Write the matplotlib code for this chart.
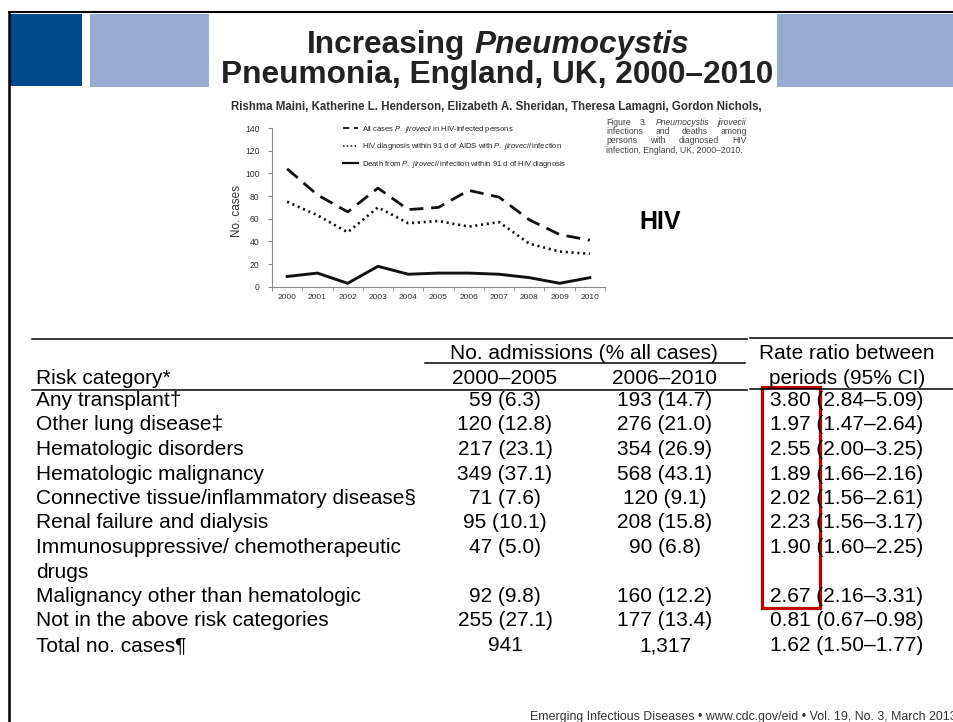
import matplotlib
matplotlib.use("Agg")
import matplotlib.pyplot as plt
from matplotlib.lines import Line2D
from matplotlib.patches import Rectangle

plt.rcParams["font.family"] = ["Liberation Sans", "DejaVu Sans"]
plt.rcParams["mathtext.fontset"] = "custom"
plt.rcParams["mathtext.rm"] = "Liberation Sans"
plt.rcParams["mathtext.it"] = "Liberation Sans:italic"

# --- chart data ---
years = [2000, 2001, 2002, 2003, 2004, 2005, 2006, 2007, 2008, 2009, 2010]
all_cases = [104, 81, 66, 87, 68, 70, 85, 79, 59, 46, 41]
hiv_diag = [75, 63, 48, 70, 56, 58, 53, 57, 38, 31, 29]
deaths = [9, 12, 3, 18, 11, 12, 12, 11, 8, 3, 8]
legend_labels = [
    r"All cases $\mathit{P.\ jirovecii}$ in HIV-infected persons",
    r"HIV diagnosis within 91 d of AIDS with $\mathit{P.\ jirovecii}$ infection",
    r"Death from $\mathit{P.\ jirovecii}$ infection within 91 d of HIV diagnosis",
]

# --- table data ---
categories = [
    "Any transplant†",
    "Other lung disease‡",
    "Hematologic disorders",
    "Hematologic malignancy",
    "Connective tissue/inflammatory disease§",
    "Renal failure and dialysis",
    "Immunosuppressive/ chemotherapeutic\ndrugs",
    "Malignancy other than hematologic",
    "Not in the above risk categories",
    "Total no. cases¶",
]
n_0005 = [59, 120, 217, 349, 71, 95, 47, 92, 255, 941]
pct_0005 = [6.3, 12.8, 23.1, 37.1, 7.6, 10.1, 5.0, 9.8, 27.1, None]
n_0610 = [193, 276, 354, 568, 120, 208, 90, 160, 177, 1317]
pct_0610 = [14.7, 21.0, 26.9, 43.1, 9.1, 15.8, 6.8, 12.2, 13.4, None]
rate_ratio = [3.80, 1.97, 2.55, 1.89, 2.02, 2.23, 1.90, 2.67, 0.81, 1.62]
ci_low = [2.84, 1.47, 2.00, 1.66, 1.56, 1.56, 1.60, 2.16, 0.67, 1.50]
ci_high = [5.09, 2.64, 3.25, 2.16, 2.61, 3.17, 2.25, 3.31, 0.98, 1.77]

W, H = 954, 722
fig = plt.figure(figsize=(W / 100, H / 100), dpi=100)
bg = fig.add_axes([0, 0, 1, 1])
bg.set_xlim(0, W)
bg.set_ylim(H, 0)
bg.axis("off")
rend = fig.canvas.get_renderer()


def width_of(t):
    return t.get_window_extent(renderer=rend).width


def fit_size(s, width, **kw):
    t = bg.text(0, 0, s, fontsize=10, **kw)
    w = width_of(t)
    t.remove()
    return 10 * width / w


def word_line(words, y, size, x0=None, x1=None, xc=None, color="black"):
    # words: (text, style, weight); justify between x0/x1, or centre on xc
    objs = [bg.text(0, y, w, fontsize=size, fontstyle=st, fontweight=wt,
                    color=color, va="baseline") for w, st, wt in words]
    ws = [width_of(o) for o in objs]
    space = size / 72 * 100 * 0.278
    if x0 is not None and x1 is not None:
        gap = (x1 - x0 - sum(ws)) / max(len(ws) - 1, 1)
        x = x0
    elif xc is not None:
        gap = space
        x = xc - (sum(ws) + gap * (len(ws) - 1)) / 2
    else:
        gap = space
        x = x0
    for o, w in zip(objs, ws):
        o.set_x(x)
        x += w + gap


# slide decorations
bg.add_patch(Rectangle((10, 14), 72, 72, color="#00498C", lw=0))
bg.add_patch(Rectangle((90, 14), 119, 73, color="#98ABD1", lw=0))
bg.add_patch(Rectangle((777, 14), 177, 73, color="#98ABD1", lw=0))
bg.plot([8, W], [12, 12], color="black", lw=1.5, solid_capstyle="butt")
bg.plot([9, 9], [11, H], color="black", lw=1.8, solid_capstyle="butt")

# title
tsize = fit_size("Pneumonia, England, UK, 2000–2010", 553, fontweight="bold")
word_line([("Increasing", "normal", "bold"), ("Pneumocystis", "italic", "bold")],
          53, tsize, xc=498, color="#222222")
bg.text(497.5, 83, "Pneumonia, England, UK, 2000–2010", fontsize=tsize,
        fontweight="bold", ha="center", va="baseline", color="#222222")
authors = ("Rishma Maini, Katherine L. Henderson, Elizabeth A. Sheridan, "
           "Theresa Lamagni, Gordon Nichols,")
asize = fit_size(authors, 532, fontweight="bold")
bg.text(231, 110, authors, fontsize=asize, fontweight="bold", va="baseline",
        color="#333333")

# figure caption
cap = "#444444"
word_line([("Figure", "normal", "normal"), ("3.", "normal", "normal"),
           ("Pneumocystis", "italic", "normal"), ("jirovecii", "italic", "normal")],
          125, 6.2, x0=606, x1=747, color=cap)
word_line([(w, "normal", "normal") for w in "infections and deaths among".split()],
          134, 6.2, x0=606, x1=747, color=cap)
word_line([(w, "normal", "normal") for w in "persons with diagnosed HIV".split()],
          143, 6.2, x0=606, x1=747, color=cap)
bg.text(606, 153, "infection, England, UK, 2000–2010.", fontsize=6.2,
        color=cap, va="baseline")

bg.text(660, 222, "HIV", fontsize=18, fontweight="bold", ha="center", va="center")

# line chart
ax = fig.add_axes([272 / W, (H - 286.7) / H, 333 / W, 158.7 / H])
ax.patch.set_alpha(0)
xs = list(range(len(years)))
ax.plot(xs, all_cases, color="#111111", lw=2.0, dashes=(5, 2.8))
ax.plot(xs, hiv_diag, color="#111111", lw=1.9, dashes=(0.8, 1.4))
ax.plot(xs, deaths, color="#111111", lw=2.1)
ax.set_xlim(-0.5, len(years) - 0.5)
ax.set_ylim(0, 140)
ax.set_yticks(range(0, 141, 20))
ax.set_xticks(xs)
ax.set_xticklabels([str(y) for y in years])
ax.set_xticks([i - 0.5 for i in range(len(years) + 1)], minor=True)
ax.tick_params(axis="x", which="major", length=0, pad=5, labelsize=6,
               labelcolor="#333333")
ax.tick_params(axis="x", which="minor", length=3, color="#888888")
ax.tick_params(axis="y", length=3, color="#888888", pad=6, labelsize=6.2,
               labelcolor="#333333")
for side in ["top", "right"]:
    ax.spines[side].set_visible(False)
for side in ["left", "bottom"]:
    ax.spines[side].set_color("#888888")
    ax.spines[side].set_linewidth(0.8)
bg.text(237, 211, "No. cases", fontsize=8.4, rotation=90, ha="center",
        va="center", color="#333333")

handles = [
    Line2D([], [], color="#111111", lw=1.3, dashes=(3.5, 2.5)),
    Line2D([], [], color="#111111", lw=1.1, dashes=(1, 1.5)),
    Line2D([], [], color="#111111", lw=1.6),
]
fig.legend(handles, legend_labels, loc="upper left",
           bbox_to_anchor=(343 / W, 1 - 124 / H), frameon=False, fontsize=5.5,
           handlelength=2.0, handletextpad=0.5, labelspacing=0.85,
           borderpad=0, borderaxespad=0, labelcolor="#222222")

# table
fs = 15
bg.plot([32, 747], [339, 339], color="black", lw=1.1)
bg.plot([750, W], [337.5, 337.5], color="black", lw=1.1)
bg.plot([425, 745], [363, 363], color="black", lw=1.1)
bg.plot([32, 747], [390, 390], color="black", lw=1.1)
bg.plot([750, W], [389, 389], color="black", lw=1.1)

bg.text(584, 359, "No. admissions (% all cases)", fontsize=fs, ha="center", va="baseline")
bg.text(847, 359, "Rate ratio between", fontsize=fs, ha="center", va="baseline")
bg.text(36, 384, "Risk category*", fontsize=fs, va="baseline")
bg.text(505, 384, "2000–2005", fontsize=fs, ha="center", va="baseline")
bg.text(665, 384, "2006–2010", fontsize=fs, ha="center", va="baseline")
bg.text(847, 384, "periods (95% CI)", fontsize=fs, ha="center", va="baseline")


def cell(n, p):
    return f"{n:,}" if p is None else f"{n} ({p:.1f})"


line = 0
pitch = 24.5
for i, cat in enumerate(categories):
    y = 406 + pitch * line
    parts = cat.split("\n")
    for j, part in enumerate(parts):
        bg.text(36, y + pitch * j, part, fontsize=fs, va="baseline")
    bg.text(505, y, cell(n_0005[i], pct_0005[i]), fontsize=fs, ha="center", va="baseline")
    bg.text(665, y, cell(n_0610[i], pct_0610[i]), fontsize=fs, ha="center", va="baseline")
    bg.text(847, y, f"{rate_ratio[i]:.2f} ({ci_low[i]:.2f}–{ci_high[i]:.2f})",
            fontsize=fs, ha="center", va="baseline")
    line += len(parts)

bg.add_patch(Rectangle((762, 387), 58, 221, fill=False, ec="#C00000", lw=2.3))

bg.text(530, 720, "Emerging Infectious Diseases • www.cdc.gov/eid • Vol. 19, No. 3, March 2013",
        fontsize=8.9, color="#333333", va="baseline")

fig.savefig("out.png", dpi=100)
